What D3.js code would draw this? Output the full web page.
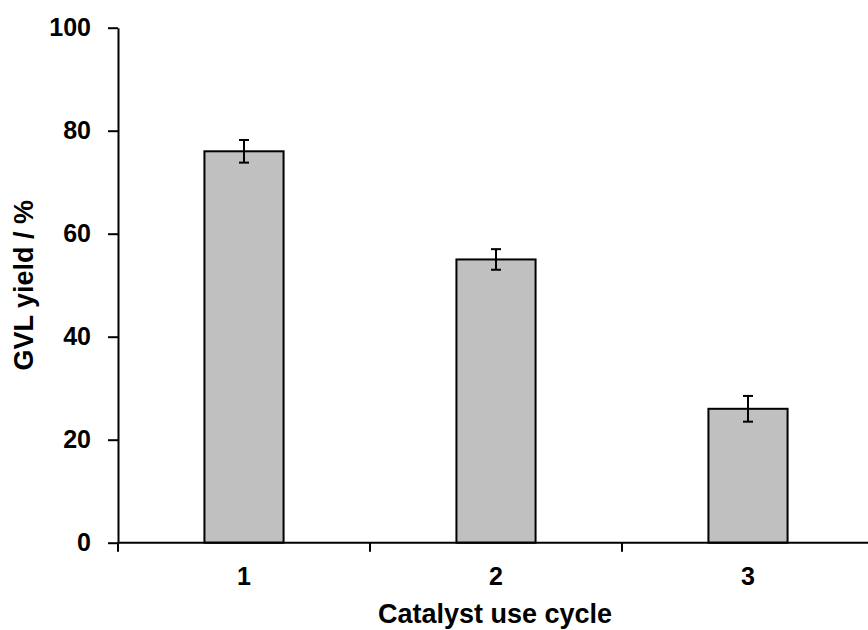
<!DOCTYPE html>
<html>
<head>
<meta charset="utf-8">
<script src="https://cdn.jsdelivr.net/npm/d3@7"></script>
<style>
  html, body { margin: 0; padding: 0; background: #fff; }
  svg { display: block; font-family: "Liberation Sans", Arial, sans-serif; }
</style>
</head>
<body>
<svg id="chart" width="868" height="630"></svg>
<script>
// Catalyst reuse: GVL yield per cycle with error bars
const cycles = ["1", "2", "3"];
const yieldValues = [76, 55, 26];
const yieldErrors = [2.2, 2.0, 2.5];
const yTicks = [0, 20, 40, 60, 80, 100];

const svg = d3.select("#chart");
const plotLeft = 118, plotRight = 874, plotTop = 27.7, plotBottom = 542.7;

const x = d3.scaleBand().domain(cycles).range([plotLeft, plotRight]).paddingInner(0).paddingOuter(0);
const y = d3.scaleLinear().domain([0, 100]).range([plotBottom, plotTop]);

const data = cycles.map((c, i) => ({ c, v: yieldValues[i], e: yieldErrors[i] }));
const barW = x.bandwidth() * 0.314;

// Bars
svg.append("g").selectAll("rect").data(data).join("rect")
  .attr("x", d => x(d.c) + x.bandwidth() / 2 - barW / 2)
  .attr("y", d => y(d.v))
  .attr("width", barW)
  .attr("height", d => y(0) - y(d.v))
  .attr("fill", "#c0c0c0")
  .attr("stroke", "#000")
  .attr("stroke-width", 2);

// Error bars
const eg = svg.append("g").attr("stroke", "#000").attr("stroke-width", 2);
data.forEach(d => {
  const cx = x(d.c) + x.bandwidth() / 2;
  eg.append("line").attr("x1", cx).attr("x2", cx).attr("y1", y(d.v + d.e)).attr("y2", y(d.v - d.e));
  eg.append("line").attr("x1", cx - 5).attr("x2", cx + 5).attr("y1", y(d.v + d.e)).attr("y2", y(d.v + d.e));
  eg.append("line").attr("x1", cx - 5).attr("x2", cx + 5).attr("y1", y(d.v - d.e)).attr("y2", y(d.v - d.e));
});

// Y axis
const yAxis = svg.append("g").attr("transform", `translate(${plotLeft},0)`)
  .call(d3.axisLeft(y).tickValues(yTicks).tickSize(10).tickSizeOuter(0).tickPadding(17));
yAxis.select(".domain").attr("stroke-width", 2);
yAxis.selectAll(".tick line").attr("stroke-width", 2);
yAxis.selectAll("text").attr("font-size", 25).attr("font-weight", "bold").attr("fill", "#000");

// X axis: ticks on band boundaries
const boundaries = cycles.map(c => x(c));
const xg = svg.append("g").attr("transform", `translate(0,${plotBottom})`);
xg.append("line").attr("x1", plotLeft).attr("x2", plotRight).attr("stroke", "#000").attr("stroke-width", 2);
xg.selectAll("line.tk").data(boundaries).join("line").attr("class", "tk")
  .attr("x1", d => d).attr("x2", d => d).attr("y1", 0).attr("y2", 9)
  .attr("stroke", "#000").attr("stroke-width", 2);
xg.selectAll("text").data(cycles).join("text")
  .attr("x", d => x(d) + x.bandwidth() / 2)
  .attr("y", 42)
  .attr("text-anchor", "middle")
  .attr("font-size", 25).attr("font-weight", "bold")
  .text(d => d);

// Axis titles
svg.append("text").attr("x", 495).attr("y", 623).attr("text-anchor", "middle")
  .attr("font-size", 27).attr("font-weight", "bold").text("Catalyst use cycle");
svg.append("text").attr("transform", `translate(33,${(plotTop + plotBottom) / 2}) rotate(-90)`)
  .attr("text-anchor", "middle").attr("font-size", 27).attr("font-weight", "bold").text("GVL yield / %");
</script>
</body>
</html>
